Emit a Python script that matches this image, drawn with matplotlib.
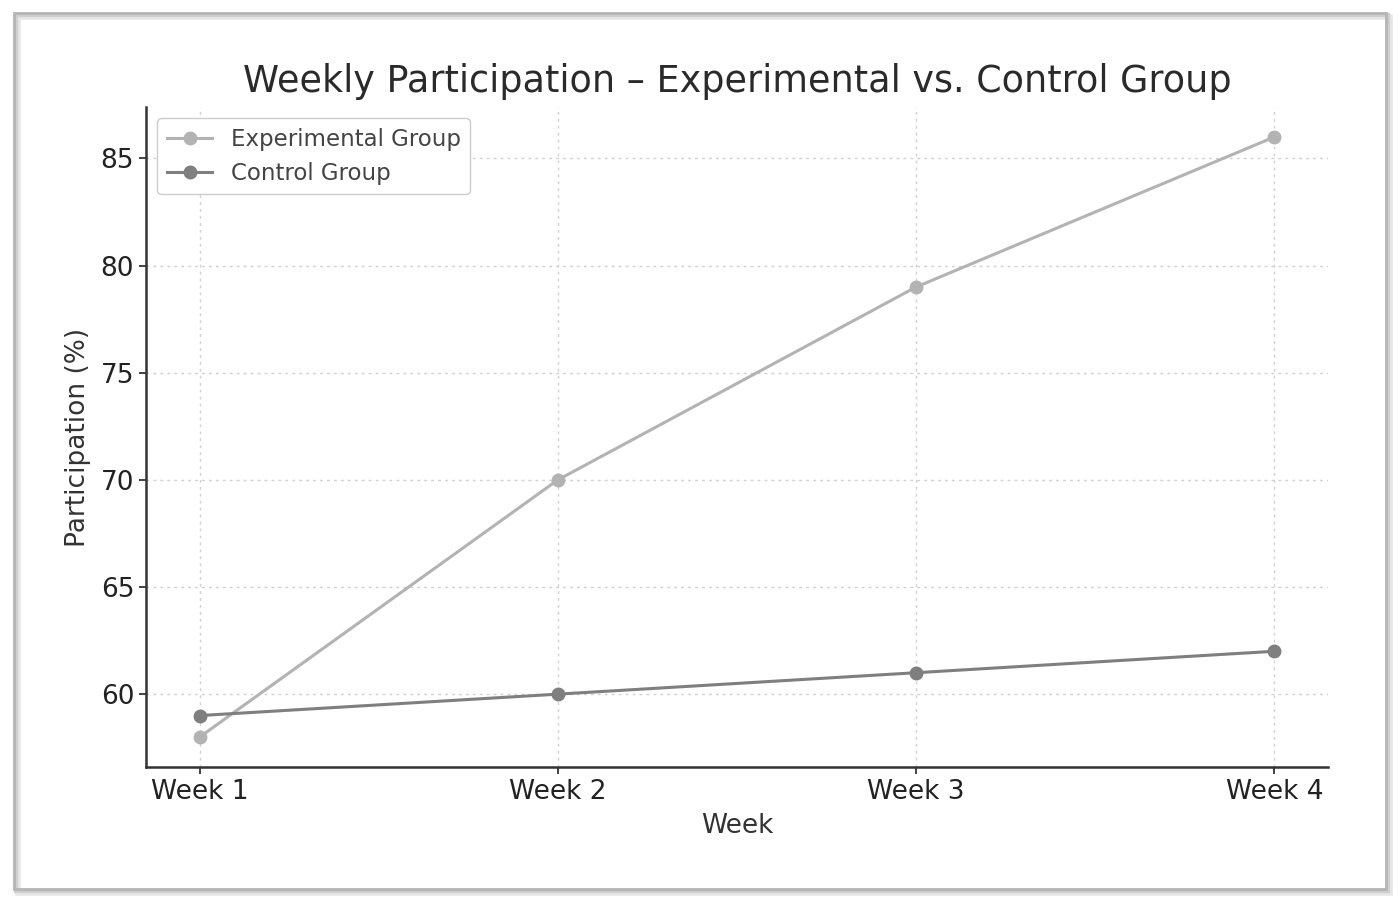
import matplotlib
matplotlib.use("Agg")
import matplotlib.pyplot as plt
from matplotlib.patches import Rectangle

weeks = ["Week 1", "Week 2", "Week 3", "Week 4"]
experimental = [58, 70, 79, 86]
control = [59, 60, 61, 62]

W, H = 1400, 907
fig = plt.figure(figsize=(W / 100, H / 100), dpi=100)
fig.patch.set_facecolor("white")

# screenshot frame with shadow
for off, col, lw in [(4, "#e6e6e6", 4), (2, "#cfcfcf", 3), (0, "#b5b5b5", 2)]:
    fig.patches.append(Rectangle(((14 + off) / W, 1 - (889 + off) / H),
                                 (1372) / W, (876) / H, transform=fig.transFigure,
                                 fill=False, edgecolor=col, linewidth=lw, zorder=0))

ax = fig.add_axes([146 / W, 1 - 767 / H, (1328 - 146) / W, (767 - 107) / H])
x = list(range(len(weeks)))
ax.plot(x, experimental, color="#b3b3b3", marker="o", markersize=9, linewidth=2.2,
        label="Experimental Group")
ax.plot(x, control, color="#7f7f7f", marker="o", markersize=9, linewidth=2.2,
        label="Control Group")

ax.set_xticks(x)
ax.set_xticklabels(weeks)
ax.set_yticks([60, 65, 70, 75, 80, 85])
ax.tick_params(labelsize=19, colors="#222222", length=5, width=1.2)
ax.grid(True, linestyle=(0, (2, 3)), color="#d0d0d0", linewidth=1)
for s in ["top", "right"]:
    ax.spines[s].set_visible(False)
for s in ["left", "bottom"]:
    ax.spines[s].set_color("#333333")
    ax.spines[s].set_linewidth(1.8)

ax.set_title("Weekly Participation – Experimental vs. Control Group", fontsize=26.3,
             color="#2a2a2a", pad=11)
ax.set_xlabel("Week", fontsize=19, color="#333333", labelpad=6)
ax.set_ylabel("Participation (%)", fontsize=19, color="#333333", labelpad=7)
leg = ax.legend(loc="upper left", fontsize=16.5, frameon=True, borderpad=0.4,
                handlelength=2.0, framealpha=1)
leg.get_frame().set_edgecolor("#cccccc")
for t in leg.get_texts():
    t.set_color("#444444")

fig.savefig("out.png", dpi=100, facecolor="white")
